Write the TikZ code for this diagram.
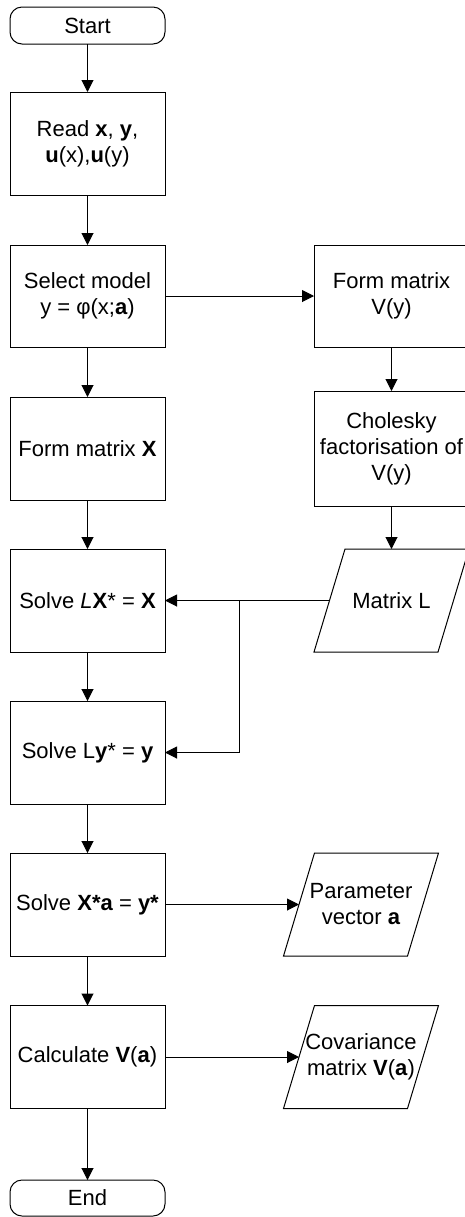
\documentclass[tikz,border=0pt]{standalone}
\usepackage{fontspec}
\setmainfont{Liberation Sans}
\usetikzlibrary{arrows.meta,calc}

% outline of an input/output box: a parallelogram leaning right
\newcommand\ioshape[1]{%
  \draw[line width=0.5pt]
    ($(#1.south west)+(-15.5,0)$) -- ($(#1.south east)+(-15.5,0)$) --
    ($(#1.north east)+(15.5,0)$) -- ($(#1.north west)+(15.5,0)$) -- cycle;}

\begin{document}
\begin{tikzpicture}[x=0.5pt,y=-0.5pt,
  font=\fontsize{11pt}{13pt}\selectfont,
  every node/.style={inner sep=0pt, outer sep=0pt},
  proc/.style={draw, line width=0.5pt, minimum width=77.5pt, minimum height=51.5pt, align=center},
  term/.style={draw, line width=0.5pt, rounded corners=6pt, minimum width=77.5pt, minimum height=18.5pt, align=center},
  iobox/.style={minimum width=62pt, minimum height=51.5pt, align=center},
  flow/.style={-{Triangle[length=6pt,width=6pt]}, line width=0.5pt},
]
\clip (0,0) rectangle (465,1217);

% main column
\node[term] (start) at (87.5,25.5) {Start};
\node[proc] (read) at (87.5,143.5) {Read \textbf{x}, \textbf{y},\\\textbf{u}(x),\textbf{u}(y)};
\node[proc, minimum height=51pt] (select) at (87.5,296) {Select model\\y = φ(x;\textbf{a})};
\node[proc] (formX) at (87.5,448.5) {Form matrix \textbf{X}};
\node[proc] (solveLX) at (87.5,600.5) {Solve \textit{L}\textbf{X}* = \textbf{X}};
\node[proc] (solveLy) at (87.5,752.5) {Solve L\textbf{y}* = \textbf{y}};
\node[proc] (solveXa) at (87.5,904.5) {Solve \textbf{X*a} = \textbf{y*}};
\node[proc] (calc) at (87.5,1057) {Calculate \textbf{V}(\textbf{a})};
\node[term, minimum height=18pt] (end) at (87.5,1198) {End};

% covariance branch
\node[proc, minimum height=51pt] (formV) at (391.5,296) {Form matrix\\V(y)};
\node[proc, minimum height=57.5pt] (chol) at (391.5,448.5) {Cholesky\\factorisation of\\V(y)};
\node[iobox] (matL) at (391.5,600.5) {Matrix L};
\ioshape{matL}

% outputs
\node[iobox] (param) at (361,904.5) {Parameter\\vector \textbf{a}};
\ioshape{param}
\node[iobox] (cov) at (361,1057) {Covariance\\matrix \textbf{V}(\textbf{a})};
\ioshape{cov}

% connectors
\draw[flow] (start) -- (read);
\draw[flow] (read) -- (select);
\draw[flow] (select) -- (formX);
\draw[flow] (formX) -- (solveLX);
\draw[flow] (solveLX) -- (solveLy);
\draw[flow] (solveLy) -- (solveXa);
\draw[flow] (solveXa) -- (calc);
\draw[flow] (calc) -- (end);
\draw[flow] (select) -- (formV);
\draw[flow] (formV) -- (chol);
\draw[flow] (chol) -- (matL);
\coordinate (split) at (239.5,600.5);
\draw[flow] (matL.west) -- (solveLX.east);
\draw[flow] (split) |- (solveLy.east);
\draw[flow] (solveXa) -- (param);
\draw[flow] (calc) -- (cov);
\end{tikzpicture}
\end{document}
